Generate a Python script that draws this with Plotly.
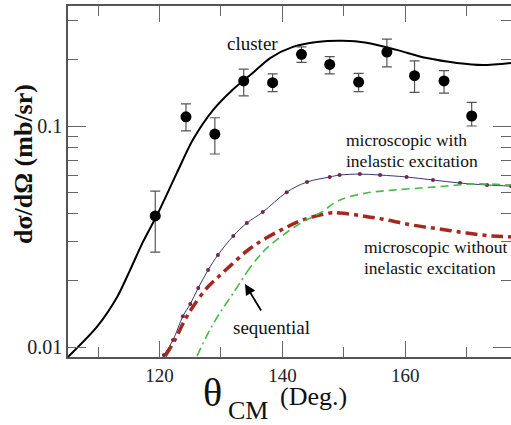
import plotly.graph_objects as go

# ---------------- data ----------------
exp_theta = [119.3, 124.3, 129.0, 133.7, 138.4, 143.1, 147.7, 152.4, 157.0, 161.5, 166.3, 170.8]
exp_sigma = [0.0392, 0.110, 0.092, 0.160, 0.157, 0.211, 0.190, 0.158, 0.216, 0.169, 0.160, 0.111]
exp_hi    = [0.0508, 0.126, 0.109, 0.181, 0.172, 0.228, 0.206, 0.173, 0.247, 0.197, 0.178, 0.128]
exp_lo    = [0.0269, 0.095, 0.0747, 0.137, 0.143, 0.194, 0.172, 0.143, 0.185, 0.142, 0.141, 0.100]

cl_theta = [105.1, 109.8, 113.1, 115.2, 117.3, 119.6, 122.8, 125.4, 128.7, 131.9, 135.2,
            138.0, 141.7, 145.6, 149.8, 153.7, 158.6, 163.5, 168.4, 172.6, 177.2]
cl_sigma = [0.00902, 0.01233, 0.01684, 0.0223, 0.0299, 0.0396, 0.0612, 0.0864, 0.118, 0.146, 0.174,
            0.203, 0.228, 0.240, 0.243, 0.238, 0.221, 0.203, 0.193, 0.189, 0.193]

mi_theta = [120.7, 122.2, 123.8, 125.0, 126.3, 127.9, 129.5, 132.0, 134.2, 136.8, 140.7,
            144.0, 147.7, 149.3, 152.6, 155.9, 160.2, 164.5, 168.9, 173.3, 177.2]
mi_sigma = [0.0092, 0.01076, 0.0138, 0.01566, 0.0185, 0.0223, 0.0261, 0.0318, 0.0364, 0.0408, 0.0502,
            0.0558, 0.0588, 0.0600, 0.0606, 0.0600, 0.0588, 0.0570, 0.0552, 0.0541, 0.0535]

mn_theta = [120.9, 122.5, 124.1, 125.4, 127.7, 129.5, 131.5, 134.2, 136.8, 140.1, 143.3,
            147.7, 149.3, 153.1, 157.0, 161.2, 165.6, 170.0, 174.2, 177.2]
mn_sigma = [0.0091, 0.01076, 0.01324, 0.01517, 0.0185, 0.0207, 0.0233, 0.0272, 0.0305, 0.0342, 0.0376,
            0.0404, 0.0404, 0.0392, 0.0376, 0.0356, 0.0342, 0.0328, 0.0318, 0.0315]

sq_theta = [126.1, 127.9, 129.8, 132.0, 134.2, 136.8, 140.1, 143.3, 146.1, 149.3, 153.7,
            158.0, 162.4, 166.7, 171.0, 177.2]
sq_sigma = [0.0091, 0.01156, 0.01425, 0.01755, 0.0218, 0.0269, 0.0321, 0.0368, 0.0404, 0.0462, 0.0498,
            0.0513, 0.0524, 0.0535, 0.0547, 0.0541]
sq_split = 4  # index where dash-dot turns to dash

x_tickvals = [120, 140, 160]
x_ticktext = ["120", "140", "160"]
y_tickvals = [0.01, 0.1]
y_ticktext = ["0.01", "0.1"]

# ---------------- figure ----------------
W, H = 511, 425
L, R, T, B = 68, 0, 6, 68
PW, PH = W - L - R, H - T - B
def px(x):
    return (x - L) / PW
def py(y):
    return 1 - (y - T) / PH

SERIF = "Times New Roman"

fig = go.Figure()

fig.add_trace(go.Scatter(x=cl_theta, y=cl_sigma, mode="lines", line=dict(color="black", width=2, shape="spline", smoothing=0.8),
                         showlegend=False, hoverinfo="skip"))

fig.add_trace(go.Scatter(x=mi_theta, y=mi_sigma, mode="lines+markers",
                         line=dict(color="#3f3470", width=1, shape="spline"),
                         marker=dict(color="#70284a", size=4), showlegend=False))

fig.add_trace(go.Scatter(x=mn_theta, y=mn_sigma, mode="lines",
                         line=dict(color="#a5281e", width=3.5, dash="12px,5px,4px,5px", shape="spline"),
                         showlegend=False))

fig.add_trace(go.Scatter(x=sq_theta[:sq_split + 1], y=sq_sigma[:sq_split + 1], mode="lines",
                         line=dict(color="#46bb46", width=1.6, dash="9px,4px,2px,4px", shape="spline"),
                         showlegend=False))
fig.add_trace(go.Scatter(x=sq_theta[sq_split:], y=sq_sigma[sq_split:], mode="lines",
                         line=dict(color="#46bb46", width=1.6, dash="8px,5px", shape="spline"),
                         showlegend=False))

fig.add_trace(go.Scatter(
    x=exp_theta, y=exp_sigma, mode="markers",
    marker=dict(color="black", size=11),
    error_y=dict(type="data", symmetric=False,
                 array=[h - v for h, v in zip(exp_hi, exp_sigma)],
                 arrayminus=[v - l for v, l in zip(exp_sigma, exp_lo)],
                 color="#555555", thickness=1.2, width=5),
    showlegend=False))

# invisible trace to bind right-side tick axis
fig.add_trace(go.Scatter(x=cl_theta, y=cl_sigma, yaxis="y2", mode="lines", line=dict(width=0),
                         opacity=0, showlegend=False, hoverinfo="skip"))

yrange = [-2.045, -0.457]
xrange = [105.1, 177.2]

fig.update_layout(
    width=W, height=H,
    margin=dict(l=L, r=R, t=T, b=B, autoexpand=False),
    paper_bgcolor="white", plot_bgcolor="white",
    font=dict(family=SERIF, color="#222222"),
    xaxis=dict(range=xrange, tickvals=x_tickvals, ticktext=x_ticktext, automargin=False,
               ticks="inside", ticklen=16, tickwidth=1, tickcolor="#666666",
               minor=dict(ticks="inside", ticklen=10, tickcolor="#666666", dtick=10, tick0=100, showgrid=False),
               showline=True, linecolor="#555555", linewidth=1.5, mirror="ticks",
               showgrid=False, zeroline=False, tickfont=dict(size=19, family=SERIF, color="#222222")),
    yaxis=dict(type="log", range=yrange, tickvals=y_tickvals, ticktext=y_ticktext, automargin=False,
               ticks="inside", ticklen=18, tickwidth=1, tickcolor="#666666",
               minor=dict(ticks="inside", ticklen=10, tickcolor="#666666", dtick="D1", showgrid=False),
               showline=True, linecolor="#555555", linewidth=1.5, mirror=False,
               showgrid=False, zeroline=False, tickfont=dict(size=20, family=SERIF, color="#222222")),
    yaxis2=dict(type="log", range=yrange, overlaying="y", side="right", automargin=False,
                tickvals=y_tickvals, ticktext=["", ""], showticklabels=False,
                ticks="inside", ticklen=18, tickwidth=1, tickcolor="#666666",
                minor=dict(ticks="inside", ticklen=10, tickcolor="#666666", dtick="D1", showgrid=False),
                showline=False, showgrid=False, zeroline=False),
)

ann = []
def text(t, x, y, size=18, xanchor="left", family=SERIF, **kw):
    ann.append(dict(text=t, x=px(x), y=py(y), xref="paper", yref="paper", showarrow=False,
                    xanchor=xanchor, yanchor="middle", font=dict(family=family, size=size, color="#111111"), **kw))

text("cluster", 252, 43, xanchor="center", size=19)
text("microscopic with", 344, 140, size=17.5)
text("inelastic excitation", 344, 161, size=17.5)
text("microscopic without", 362, 247, size=17.5)
text("inelastic excitation", 362, 268, size=17.5)
text("sequential", 231, 327, size=19)
text("θ", 212, 392, size=40, xanchor="center")
text("CM", 248, 410, size=26, xanchor="center")
text("(Deg.)", 313, 397, size=26, xanchor="center")
ann.append(dict(text="<b>dσ/dΩ (mb/sr)</b>", x=px(23), y=py(164), xref="paper", yref="paper",
                showarrow=False, textangle=-90, xanchor="center", yanchor="middle",
                font=dict(family=SERIF, size=26, color="#111111")))
# arrow pointing to sequential curve
ann.append(dict(text="", x=px(245), y=py(284), xref="paper", yref="paper",
                ax=17, ay=28, axref="pixel", ayref="pixel",
                showarrow=True, arrowhead=2, arrowsize=1.2, arrowwidth=1.8, arrowcolor="black"))
fig.update_layout(annotations=ann)

fig.write_html("out.html", config={"displayModeBar": False},
               post_script="document.body.style.margin='0';document.body.style.overflow='hidden';")
